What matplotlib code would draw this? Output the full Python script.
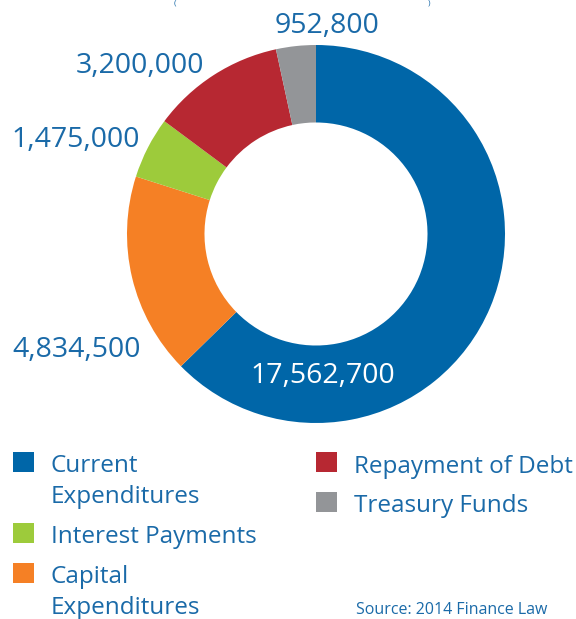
import matplotlib.pyplot as plt
from matplotlib.patches import Rectangle

# data
categories = ["Current\nExpenditures", "Capital\nExpenditures", "Interest Payments",
              "Repayment of Debt", "Treasury Funds"]
values = [17562700, 4834500, 1475000, 3200000, 952800]
value_labels = ["17,562,700", "4,834,500", "1,475,000", "3,200,000", "952,800"]
colors = ["#0066a8", "#f58025", "#9dcb3b", "#b72832", "#939598"]

TXT = "#1a6aa8"
W, H = 576, 619
plt.rcParams['font.family'] = ['Open Sans', 'DejaVu Sans']

fig = plt.figure(figsize=(W / 100, H / 100), dpi=100)


def px(x, y):
    return x / W, 1 - y / H


# donut
cx, cy, r = 316, 234, 189
ax = fig.add_axes([(cx - r) / W, 1 - (cy + r) / H, 2 * r / W, 2 * r / H])
ax.pie(values, colors=colors, startangle=90, counterclock=False, radius=1,
       wedgeprops=dict(width=0.41, edgecolor='none'))
ax.set_xlim(-1, 1)
ax.set_ylim(-1, 1)
ax.axis('off')

# value labels (center x, baseline y)
label_pos = [(323, 383, 'white'), (77, 357, TXT), (76, 147, TXT), (140, 73, TXT), (327, 33, TXT)]
for lab, (x, y, c) in zip(value_labels, label_pos):
    fig.text(*px(x, y), lab, ha='center', va='baseline', fontsize=20.5, color=c)

# bottom of the (cut off) title
fig.text(*px(175, 0), "(", ha='center', va='top', fontsize=6, color=TXT)
fig.text(*px(429, 0), ")", ha='center', va='top', fontsize=6, color=TXT)

# legend: (index, square x, square top, first baseline)
leg = [(0, 13, 452, 472), (1, 13, 563, 583), (2, 13, 523, 543),
       (3, 316, 452, 473), (4, 316, 492, 512)]
for i, sx, sy, base in leg:
    x0, y0 = px(sx, sy + 20)
    fig.patches.append(Rectangle((x0, y0), 21 / W, 20 / H, transform=fig.transFigure,
                                 facecolor=colors[i], edgecolor='none'))
    for k, line in enumerate(categories[i].split("\n")):
        fig.text(*px(sx + 38, base + 31 * k), line, ha='left', va='baseline',
                 fontsize=17.5, color=TXT)

fig.text(*px(356, 614), "Source: 2014 Finance Law", ha='left', va='baseline',
         fontsize=11.5, color=TXT)

fig.savefig("out.png", dpi=100, facecolor='white')
